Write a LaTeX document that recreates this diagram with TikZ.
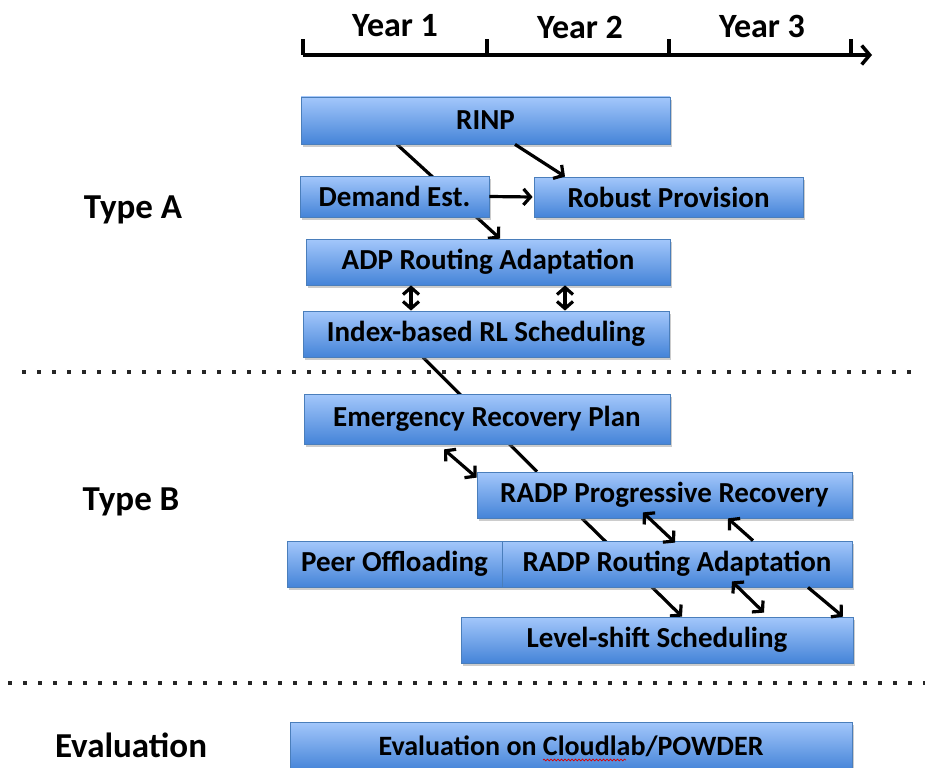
\documentclass[tikz,border=0pt]{standalone}
\usepackage{fontspec}
\setmainfont{Carlito}
\usetikzlibrary{arrows.meta,shadows,decorations.pathmorphing}
\pgfdeclarelayer{bg}
\pgfsetlayers{bg,main}
\definecolor{boxtop}{HTML}{A3C7FB}
\definecolor{boxbot}{HTML}{4584D8}
\definecolor{boxline}{HTML}{4A7EBB}
\definecolor{txt}{HTML}{000000}
\tikzset{
  box/.style={draw=boxline, line width=0.8pt, top color=boxtop, bottom color=boxbot,
    drop shadow={opacity=0.4, shadow xshift=1.5pt, shadow yshift=-3pt},
    text=txt, font=\fontsize{29}{32}\selectfont\bfseries, inner sep=0pt},
  yearlbl/.style={text=txt, font=\fontsize{34}{38}\selectfont\bfseries},
  typelbl/.style={text=txt, font=\fontsize{35}{40}\selectfont\bfseries},
  conn/.style={line width=3.2pt, black, -{Straight Barb[length=7pt,width=16pt]}},
  dconn/.style={line width=3.2pt, black, {Straight Barb[length=7pt,width=16pt]}-{Straight Barb[length=7pt,width=16pt]}},
  plain/.style={line width=3.2pt, black},
  dotline/.style={line width=4pt, black!85, dash pattern=on 4pt off 11pt},
  axis/.style={line width=3.5pt, black},
}
\begin{document}
\begin{tikzpicture}[x=1pt,y=-1pt]
\useasboundingbox (0,0) rectangle (927,768);

% timeline
\coordinate (t0) at (303,55);
\coordinate (t1) at (487,55);
\coordinate (t2) at (669,55);
\coordinate (t3) at (851,55);
\coordinate (tend) at (872,55);
\draw[axis, -{Straight Barb[length=8pt,width=19pt]}] (t0) -- (tend);
\foreach \t in {t0,t1,t2,t3} \draw[axis] (\t) -- ++(0,-16);
\node[yearlbl] (y1) at (395,26) {Year 1};
\node[yearlbl] (y2) at (580,27) {Year 2};
\node[yearlbl] (y3) at (762,26) {Year 3};

% labels
\node[typelbl] (ta) at (133,210) {Type A};
\node[typelbl] (tb) at (131,502) {Type B};
\node[typelbl] (te) at (131,745) {Evaluation};

% separators
\draw[dotline] (22,372) -- (912,372);
\draw[dotline] (8,683) -- (925,683);

% boxes
\node[box, minimum width=369, minimum height=47] (rinp) at (485.5,120.5) {RINP};
\node[box, minimum width=189, minimum height=41] (dem) at (394.5,196.5) {Demand Est.};
\node[box, minimum width=269, minimum height=40] (rob) at (668.5,197) {Robust Provision};
\node[box, minimum width=364, minimum height=46] (adp) at (488,262) {ADP Routing Adaptation};
\node[box, minimum width=366, minimum height=46] (idx) at (486,334) {Index-based RL Scheduling};
\node[box, minimum width=366, minimum height=50] (emg) at (487,419) {Emergency Recovery Plan};
\node[box, minimum width=375, minimum height=46] (rpr) at (664.5,495) {RADP Progressive Recovery};
\node[box, minimum width=215, minimum height=46] (peer) at (394.5,564) {Peer Offloading};
\node[box, minimum width=350, minimum height=46] (rra) at (677,564) {RADP Routing Adaptation};
\node[box, minimum width=392, minimum height=46] (lvl) at (657,640) {Level-shift Scheduling};
\node[box, minimum width=562, minimum height=48, font=\fontsize{28}{30}\selectfont\bfseries] (ev) at (571,746) {Evaluation on Cloudlab/POWDER};
\draw[red!85!black, line width=0.7pt, decorate, decoration={snake, amplitude=0.9pt, segment length=3.5pt}] (543,760) -- (626,760);

% connectors
\begin{pgfonlayer}{bg}
\draw[conn] ([xshift=-88.5pt]rinp.south) -- ([xshift=12pt]adp.north);
\draw[plain] ([xshift=-63pt]idx.south) -- ([xshift=-127.5pt]rpr.north);
\draw[conn] ([xshift=-82.5pt]rpr.south) -- ([xshift=25pt]lvl.north);
\end{pgfonlayer}
\draw[conn] ([xshift=29.5pt]rinp.south) -- ([xshift=-103.5pt]rob.north);
\draw[conn, shorten >=1pt] (dem.east) -- (rob.west);
\draw[dconn] ([xshift=-77pt]adp.south) -- ([xshift=-75pt]idx.north);
\draw[dconn] ([xshift=77pt]adp.south) -- ([xshift=79pt]idx.north);
\draw[dconn] ([shift={(-43pt,-5pt)}]emg.south) -- ([yshift=-6pt]rpr.north west);
\draw[dconn] ([shift={(-21.5pt,6pt)}]rpr.south) -- ([shift={(-2pt,-2pt)}]rra.north);
\draw[conn] ([xshift=76pt]rra.north) -- ([xshift=63.5pt]rpr.south);
\draw[dconn] ([shift={(55pt,6pt)}]rra.south) -- ([shift={(107pt,4pt)}]lvl.north);
\draw[conn] ([xshift=131pt]rra.south) -- ([xshift=186pt]lvl.north);
\end{tikzpicture}
\end{document}
